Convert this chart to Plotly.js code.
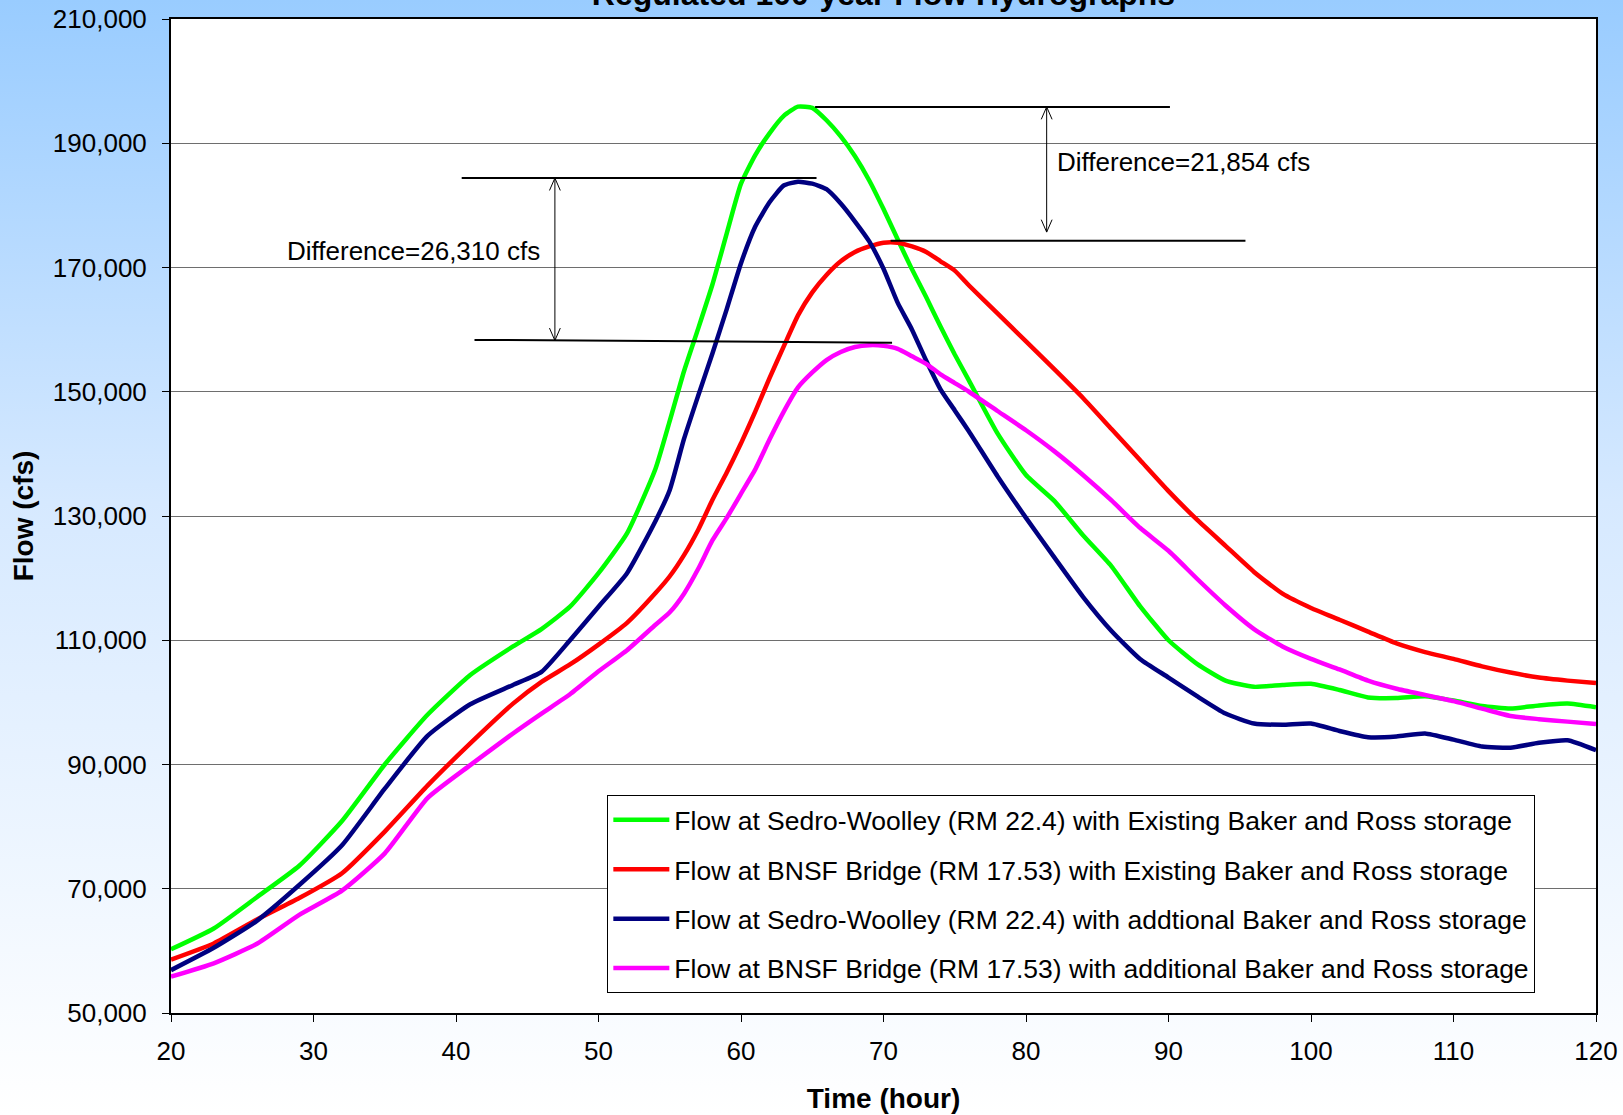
<!DOCTYPE html>
<html>
<head>
<meta charset="utf-8">
<script src="https://cdn.plot.ly/plotly-3.0.1.min.js"></script>
<style>
  html, body { margin: 0; padding: 0; }
  body { width: 1623px; height: 1115px; background: linear-gradient(to bottom, #99CCFF 0%, #D6E9FF 45%, #FFFFFF 100%); overflow: hidden; }
  #chart { width: 1623px; height: 1115px; }
</style>
</head>
<body>
<div id="chart"></div>
<script>
// Time (hour)
const hours = [20,23,26,29,32,35,38,41,44,46,48,50,52,54,55,56,57,58,59,60,61,62,63,64,65,66,67,68,69,70,71,72,73,74,75,76,78,80,82,84,86,88,90,92,94,96,98,100,102,104,106,108,110,112,114,116,118,120];

// Flow at Sedro-Woolley (RM 22.4) with Existing Baker and Ross storage
const swExisting = [60250,63600,68600,73700,80900,90000,98000,104400,109000,111800,115400,120800,127200,137600,145300,153300,160200,167300,175500,183500,188100,191600,194400,195900,195700,193700,191100,187900,184000,179400,174500,169700,165200,160500,156000,151800,143300,136600,132400,126900,121900,115500,110000,106200,103500,102500,102800,103000,102000,100800,100700,101000,100300,99400,99000,99500,99800,99200];

// Flow at BNSF Bridge (RM 17.53) with Existing Baker and Ross storage
const bnsfExisting = [58600,61200,65000,68500,72500,79200,86600,93400,99800,103300,106100,109300,112800,117600,120300,123700,127800,132600,137000,141700,146800,152200,157300,162300,166000,168800,171000,172500,173400,174000,174000,173400,172500,171000,169500,167100,162600,158100,153600,149000,144000,139000,134000,129400,125200,121000,117500,115200,113300,111400,109500,108100,107000,105800,104800,104000,103500,103100];

// Flow at Sedro-Woolley (RM 22.4) with addtional Baker and Ross storage
const swAdditional = [56900,60500,64800,70600,77000,86100,94600,99700,102800,104900,110000,115400,120800,129200,134200,142400,149400,156200,163300,170700,176600,180500,183200,183800,183500,182600,180300,177400,174200,169800,164300,160000,155000,150400,147000,143600,136400,129700,123300,117000,111500,107000,104000,101000,98200,96600,96400,96600,95400,94400,94500,95000,94000,92900,92700,93500,93900,92300];

// Flow at BNSF Bridge (RM 17.53) with additional Baker and Ross storage
const bnsfAdditional = [55850,58000,61100,65800,69700,75700,84600,89900,95000,98200,101300,105000,108400,112500,114500,117500,121500,126100,129700,133600,137500,142300,146800,150700,153100,155100,156400,157200,157500,157400,156900,155700,154500,152800,151400,150000,146900,143800,140400,136600,132500,128100,124400,119900,115600,111800,109000,107000,105300,103500,102200,101200,100200,99000,97800,97300,96900,96500];

const seriesNames = [
  "Flow at Sedro-Woolley (RM 22.4) with Existing Baker and Ross storage",
  "Flow at BNSF Bridge (RM 17.53) with Existing Baker and Ross storage",
  "Flow at Sedro-Woolley (RM 22.4) with addtional Baker and Ross storage",
  "Flow at BNSF Bridge (RM 17.53) with additional Baker and Ross storage"
];
const seriesValues = [swExisting, bnsfExisting, swAdditional, bnsfAdditional];
const seriesColors = ["#00FF00", "#FF0000", "#000080", "#FF00FF"];

const yTickVals = [50000,70000,90000,110000,130000,150000,170000,190000,210000];
const xTickVals = [20,30,40,50,60,70,80,90,100,110,120];

// Peak markers for the difference annotations (cfs)
const peakSWExisting = 195850, peakBNSFExisting = 174300;
const peakSWAdditional = 184400, peakBNSFAdditional = 158100;
const diffLabels = ["Difference=21,854 cfs", "Difference=26,310 cfs"];

const FONT = "Arial, 'Liberation Sans', sans-serif";

const traces = seriesValues.map((vals, i) => ({
  x: hours, y: vals, type: 'scatter', mode: 'lines',
  name: seriesNames[i], legendgroup: 'g' + i,
  line: { color: seriesColors[i], width: 4.5, shape: 'spline', smoothing: 0.5 }
}));

// double-headed arrow with open V heads, built as a path in data coordinates
function arrowPath(x, yTop, yBot) {
  const hw = 0.38, hl = 2000;
  return `M${x},${yTop} L${x},${yBot} ` +
         `M${x - hw},${yTop - hl} L${x},${yTop} L${x + hw},${yTop - hl} ` +
         `M${x - hw},${yBot + hl} L${x},${yBot} L${x + hw},${yBot + hl}`;
}

const layout = {
  width: 1623, height: 1115,
  paper_bgcolor: 'rgba(0,0,0,0)',
  plot_bgcolor: '#FFFFFF',
  margin: { l: 171, r: 27, t: 19, b: 102 },
  font: { family: FONT, color: '#000000', size: 26 },
  title: {
    text: '<b>Regulated 100-year Flow Hydrographs</b>',
    font: { family: FONT, size: 32, color: '#000000' },
    x: 0.5, xanchor: 'center', xref: 'paper',
    y: 1, yref: 'paper', yanchor: 'bottom', pad: { b: 14 }
  },
  xaxis: {
    range: [20, 120], tickvals: xTickVals, ticktext: xTickVals.map(String),
    showgrid: false, zeroline: false,
    showline: true, linecolor: '#000000', linewidth: 2, mirror: true,
    ticks: 'outside', ticklen: 7, tickcolor: '#000000', tickwidth: 1,
    ticklabelstandoff: 7,
    tickfont: { family: FONT, size: 26, color: '#000000' },
    title: { text: '<b>Time (hour)</b>', font: { family: FONT, size: 28, color: '#000000' }, standoff: 23 }
  },
  yaxis: {
    range: [50000, 210000], tickvals: yTickVals, ticktext: yTickVals.map(v => v.toLocaleString('en-US')),
    showgrid: true, gridcolor: '#6E6E6E', gridwidth: 1, zeroline: false,
    showline: true, linecolor: '#000000', linewidth: 2, mirror: true,
    ticks: 'outside', ticklen: 7, tickcolor: '#000000', tickwidth: 1,
    ticklabelstandoff: 10,
    tickfont: { family: FONT, size: 26, color: '#000000' },
    title: { text: '<b>Flow (cfs)</b>', font: { family: FONT, size: 28, color: '#000000' }, standoff: 11 }
  },
  showlegend: true,
  legend: {
    x: 0.3062, y: 0.2193, xanchor: 'left', yanchor: 'top',
    bgcolor: '#FFFFFF', bordercolor: '#000000', borderwidth: 1,
    font: { family: FONT, size: 26.5, color: '#000000' },
    traceorder: 'grouped', tracegroupgap: 12, itemwidth: 56
  },
  shapes: [
    { type: 'line', xref: 'x', yref: 'y', x0: 65.2, x1: 90.1, y0: peakSWExisting, y1: peakSWExisting, line: { color: '#000000', width: 2 } },
    { type: 'line', xref: 'x', yref: 'y', x0: 70.5, x1: 95.4, y0: peakBNSFExisting, y1: peakBNSFExisting, line: { color: '#000000', width: 2 } },
    { type: 'line', xref: 'x', yref: 'y', x0: 40.4, x1: 65.3, y0: peakSWAdditional, y1: peakSWAdditional, line: { color: '#000000', width: 2 } },
    { type: 'line', xref: 'x', yref: 'y', x0: 41.3, x1: 70.6, y0: peakBNSFAdditional + 250, y1: peakBNSFAdditional - 200, line: { color: '#000000', width: 2 } },
    { type: 'path', xref: 'x', yref: 'y', path: arrowPath(81.45, peakSWExisting, 175700), line: { color: '#000000', width: 1 } },
    { type: 'path', xref: 'x', yref: 'y', path: arrowPath(46.94, peakSWAdditional, peakBNSFAdditional + 150), line: { color: '#000000', width: 1 } }
  ],
  annotations: [
    { xref: 'x', yref: 'y', x: 82.0, y: 187000, text: diffLabels[0], showarrow: false,
      xanchor: 'left', yanchor: 'middle', font: { family: FONT, size: 26, color: '#000000' } },
    { xref: 'x', yref: 'y', x: 46.05, y: 172700, text: diffLabels[1], showarrow: false,
      xanchor: 'right', yanchor: 'middle', font: { family: FONT, size: 26, color: '#000000' } }
  ]
};

Plotly.newPlot('chart', traces, layout, { displayModeBar: false, staticPlot: true });
</script>
</body>
</html>
